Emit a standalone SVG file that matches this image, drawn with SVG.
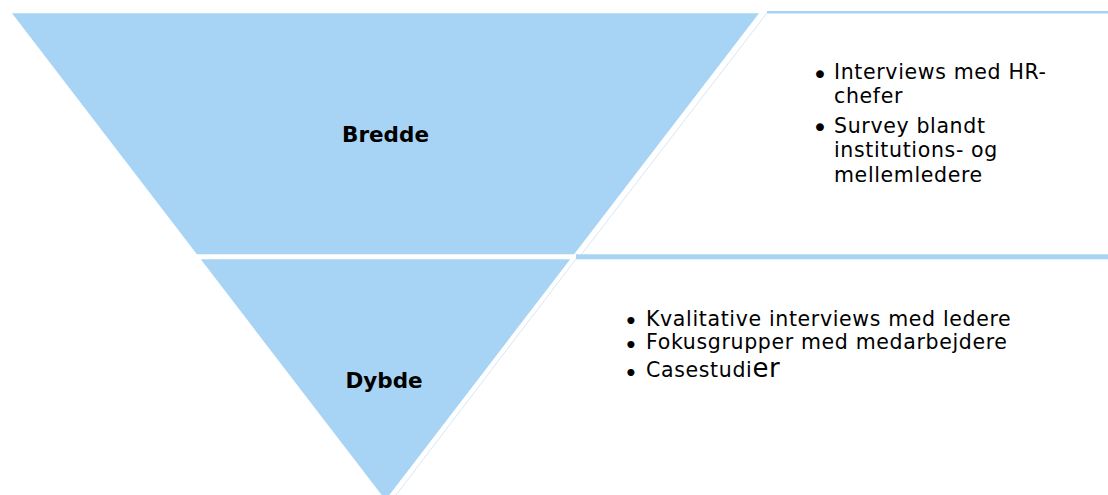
<svg xmlns="http://www.w3.org/2000/svg" width="1108" height="495" viewBox="0 0 1108 495">
<style>
.shape{fill:#A7D4F4}
.bar{fill:#A7D4F4}
.edge{stroke:#D4E7F8;stroke-width:1;fill:none}
.title{font-family:"DejaVu Sans",Verdana,sans-serif;font-weight:bold;font-size:21.5px;fill:#000;text-anchor:middle}
.item{font-family:"DejaVu Sans",Verdana,sans-serif;font-size:20.5px;fill:#000;letter-spacing:0.65px}
.bul{font-size:27px;letter-spacing:0}
.bul2{font-size:20px;font-weight:bold;letter-spacing:0}
</style>
<rect width="1108" height="495" fill="#fff"/>
<g id="panel-bredde">
<polygon points="767,12 1108,12 1108,254.3 581,254.3" fill="#fff"/>
<rect class="bar" x="767" y="11" width="341" height="2.5"/>
<line class="edge" x1="767" y1="13" x2="581" y2="255"/>
<text class="item"><tspan class="bul" x="812" y="84">•</tspan><tspan x="834" y="79.3">Interviews med HR-</tspan><tspan x="834" y="103.3">chefer</tspan><tspan class="bul" x="812" y="137">•</tspan><tspan x="834" y="132.5">Survey blandt</tspan><tspan x="834" y="156.7">institutions- og</tspan><tspan x="834" y="181.7">mellemledere</tspan></text>
</g>
<g id="panel-dybde">
<rect class="bar" x="576" y="254.3" width="532" height="5"/>
<line class="edge" x1="576" y1="259" x2="393" y2="499"/>
<text class="item"><tspan class="bul2" x="624.5" y="328">•</tspan><tspan x="646" y="325.7">Kvalitative interviews med ledere</tspan><tspan class="bul2" x="624.5" y="351.6">•</tspan><tspan x="646" y="349.3">Fokusgrupper med medarbejdere</tspan><tspan class="bul2" x="624.5" y="379.6">•</tspan><tspan x="646" y="377.3">Casestudi</tspan><tspan font-size="26px">er</tspan></text>
</g>
<g id="node-bredde">
<polygon class="shape" points="12,13.3 759,13.3 574.1,254.3 196.9,254.3"/>
<text class="title" x="385.5" y="141.7">Bredde</text>
</g>
<g id="node-dybde">
<polygon class="shape" points="200.8,259.3 570.2,259.3 385.5,500"/>
<text class="title" x="384" y="387.7">Dybde</text>
</g>
<g id="connectors"></g>
</svg>
